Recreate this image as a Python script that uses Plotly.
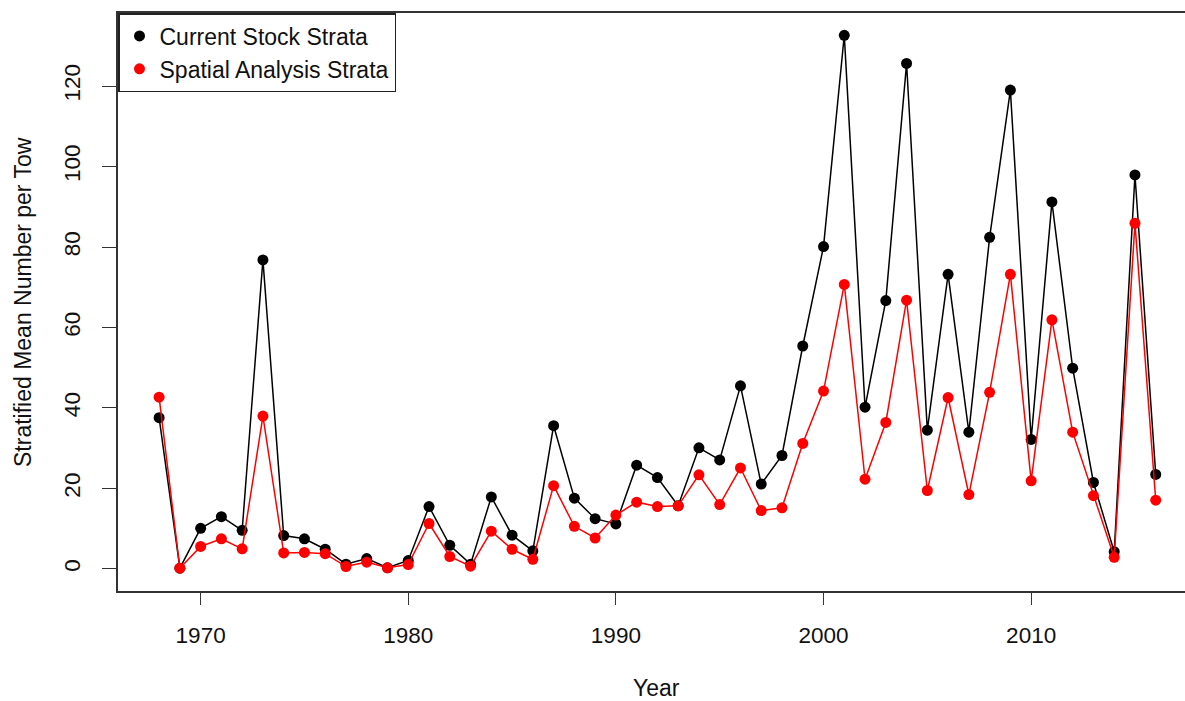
import plotly.graph_objects as go

years = list(range(1968, 2017))

current_stock = [
    37.6, 0.2, 10.1, 13.0, 9.6, 76.8, 8.3, 7.5, 4.9, 1.2,
    2.6, 0.3, 2.1, 15.5, 5.9, 1.2, 17.9, 8.4, 4.5, 35.6,
    17.6, 12.5, 11.2, 25.8, 22.7, 15.7, 30.1, 27.1, 45.5, 21.1,
    28.2, 55.4, 80.1, 132.6, 40.2, 66.7, 125.6, 34.5, 73.2, 34.0,
    82.4, 119.0, 32.2, 91.2, 49.9, 21.5, 4.3, 97.9, 23.5,
]

spatial_analysis = [
    42.7, 0.2, 5.6, 7.5, 5.0, 38.0, 4.0, 4.1, 3.8, 0.6,
    1.7, 0.3, 1.1, 11.3, 3.1, 0.7, 9.4, 4.9, 2.4, 20.7,
    10.6, 7.7, 13.4, 16.6, 15.5, 15.7, 23.4, 16.0, 25.1, 14.5,
    15.2, 31.2, 44.2, 70.7, 22.3, 36.4, 66.8, 19.5, 42.6, 18.5,
    43.9, 73.2, 21.9, 61.9, 34.0, 18.2, 2.9, 85.9, 17.1,
]

y_ticks = [0, 20, 40, 60, 80, 100, 120]
x_ticks = [1970, 1980, 1990, 2000, 2010]

FONT = "Liberation Sans, Arial, sans-serif"

fig = go.Figure()

fig.add_trace(go.Scatter(
    x=years, y=current_stock, mode="lines+markers",
    line=dict(color="black", width=1.5),
    marker=dict(color="black", size=11),
    showlegend=False, hoverinfo="skip",
))
fig.add_trace(go.Scatter(
    x=years, y=spatial_analysis, mode="lines+markers",
    line=dict(color="red", width=1.5),
    marker=dict(color="red", size=11),
    showlegend=False, hoverinfo="skip",
))

# legend entries show only the points, like the original
fig.add_trace(go.Scatter(
    x=[None], y=[None], mode="markers", name="Current Stock Strata",
    marker=dict(color="black", size=11),
))
fig.add_trace(go.Scatter(
    x=[None], y=[None], mode="markers", name="Spatial Analysis Strata",
    marker=dict(color="red", size=11),
))

fig.update_layout(
    width=1185, height=701,
    margin=dict(l=118, r=0, t=13, b=110),
    paper_bgcolor="white", plot_bgcolor="white",
    font=dict(family=FONT, size=23, color="#111111"),
    legend=dict(
        x=0, y=1, xanchor="left", yanchor="top",
        bgcolor="white", bordercolor="#222222", borderwidth=1.5,
        font=dict(size=23),
        tracegroupgap=0,
    ),
    xaxis=dict(
        range=[1966.02, 2017.41],
        tickvals=x_ticks,
        ticks="outside", ticklen=12, tickwidth=1.3, tickcolor="#333333",
        showline=True, linecolor="#333333", linewidth=1.5, mirror=True,
        showgrid=False, zeroline=False,
        tickfont=dict(size=22.5),
        ticklabelstandoff=11,
    ),
    yaxis=dict(
        range=[-5.47, 138.14],
        tickvals=y_ticks,
        ticks="outside", ticklen=14, tickwidth=1.3, tickcolor="#333333",
        showline=True, linecolor="#333333", linewidth=1.5,
        showgrid=False, zeroline=False,
        tickangle=-90,
        tickfont=dict(size=22.5),
        ticklabelstandoff=13,
    ),
    annotations=[
        dict(text="Year", xref="paper", yref="paper", x=0.505, y=0,
             xanchor="center", yanchor="middle", yshift=-97,
             showarrow=False, font=dict(size=23)),
        dict(text="Stratified Mean Number per Tow", xref="paper", yref="paper",
             x=0, y=0.5, xanchor="center", yanchor="middle", xshift=-95,
             textangle=-90, showarrow=False, font=dict(size=23)),
    ],
)

# drop the page's default body margin so the figure sits at the top-left
fig.write_html("out.html", config={"displayModeBar": False},
               post_script="document.body.style.margin='0px';")
